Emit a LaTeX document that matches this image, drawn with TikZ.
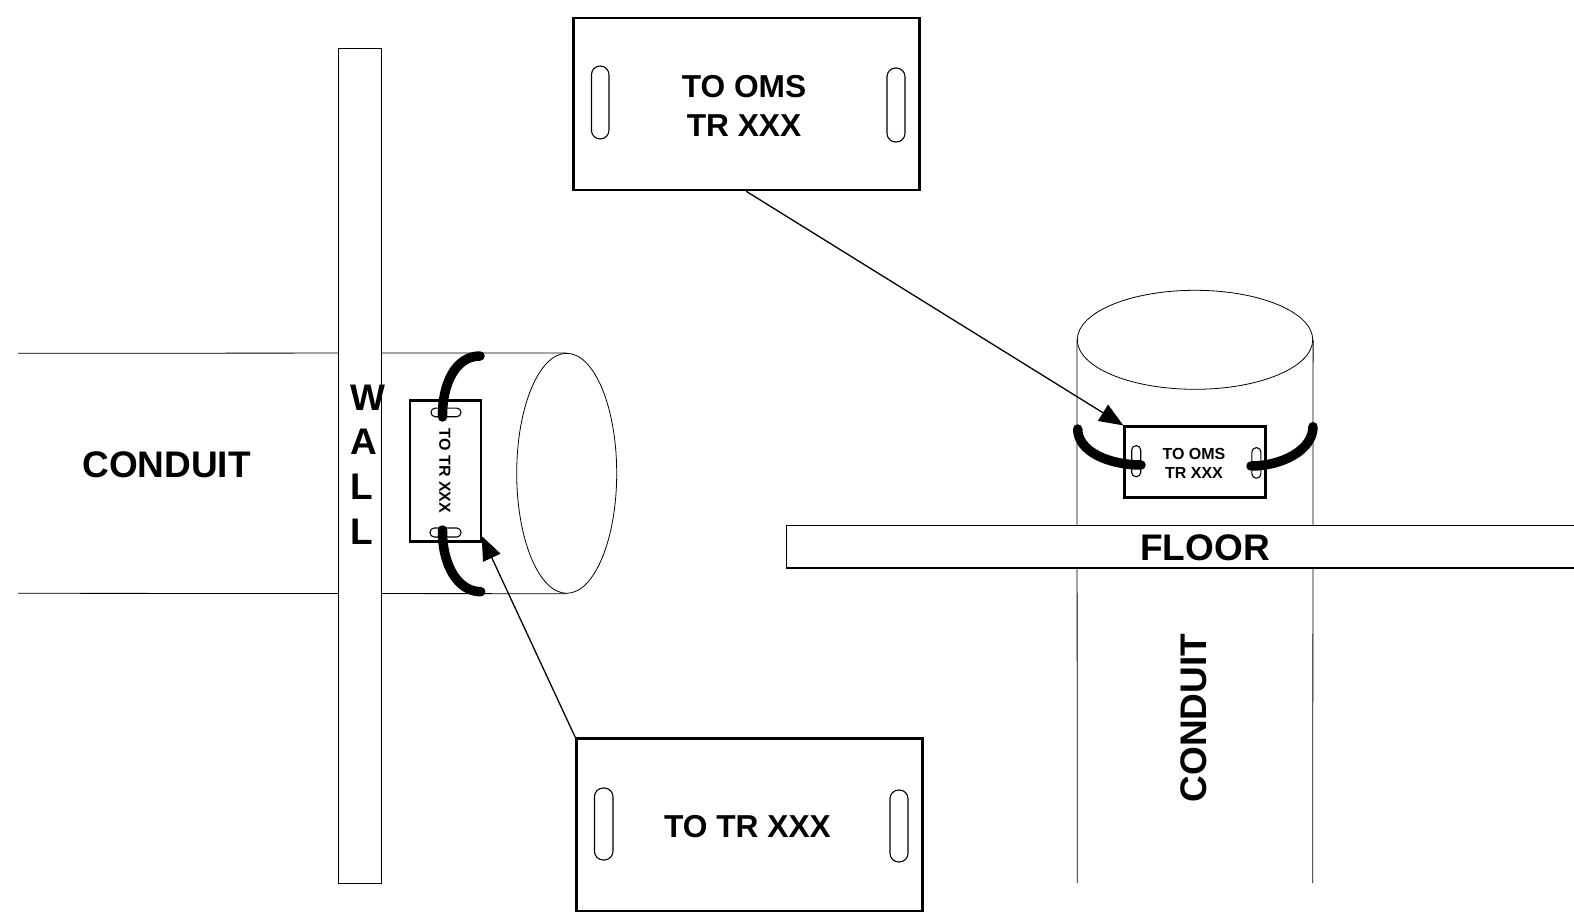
\documentclass[tikz,border=0pt]{standalone}
\usepackage{fontspec}
\setmainfont{Liberation Sans}
\usetikzlibrary{shapes.geometric, arrows.meta}

\begin{document}
\begin{tikzpicture}[
                    x=1pt, y=-1pt,
                    tag/.style={draw, fill=white, line width=2.6pt, inner sep=0pt},
                    tagtext/.style={inner sep=0pt, align=center, font=\bfseries\fontsize{31.7}{39}\selectfont},
                    smalltext/.style={inner sep=0pt, align=center, font=\bfseries\fontsize{16}{19.4}\selectfont},
                    slot/.style={draw, line width=1.1pt, rounded corners=#1, inner sep=0pt},
                    slot/.default=8pt,
                    label/.style={inner sep=0pt, font=\bfseries\fontsize{37}{44.6}\selectfont},
                    bar/.style={draw, fill=white, line width=1.4pt, inner sep=0pt},
                    pipe/.style={line width=0.8pt},
                    tie/.style={line width=9.5pt, line cap=round},
                    arrow/.style={-{Triangle[length=24pt, width=19pt]}, line width=1.3pt}
                ]
                \useasboundingbox (0,0) rectangle (1574,912);

                % --- Wall side ---
                \coordinate (pipe_top) at (18,353.3);
                \coordinate (pipe_bot) at (18,593.3);
                \node[ellipse, draw, line width=0.8pt, inner sep=0pt, minimum width=100pt, minimum height=240pt] (pipe_end) at (566.7,473.3) {};
                \draw[pipe] (pipe_top) -- (pipe_end.north);
                \draw[pipe] (pipe_bot) -- (pipe_end.south);
                \node[bar, minimum width=43pt, minimum height=835pt] (wall) at (359.7,466) {};
                \node[label, align=left, anchor=west] (wall_text) at (350,464.5) {W\\A\\L\\L};
                \node[label] (pipe_text) at (166.6,465) {CONDUIT};

                \node[tag, minimum width=71pt, minimum height=141pt] (tag_wall) at (445.5,471.2) {};
                \node[smalltext, rotate=-90] (tag_wall_text) at (445,471) {TO TR XXX};
                \node[slot=4.3pt, minimum width=30pt, minimum height=8.7pt] (wall_slot_a) at (446,412.4) {};
                \node[slot=4.3pt, minimum width=31pt, minimum height=9pt] (wall_slot_b) at (445.5,532.5) {};
                \coordinate (wall_tie_a) at (480,356);
                \coordinate (wall_tie_b) at (480.7,591.7);
                \draw[tie] (wall_tie_a) .. controls (455,356) and (442,385) .. (442.5,417);
                \draw[tie] (wall_tie_b) .. controls (458,591.7) and (442,565) .. (442.5,530);

                % --- Floor side ---
                \node[ellipse, draw, line width=0.8pt, inner sep=0pt, minimum width=235.4pt, minimum height=99pt] (riser_end) at (1195,339.8) {};
                \coordinate (riser_left) at (1077.3,883);
                \coordinate (riser_right) at (1312.7,883);
                \draw[pipe] (riser_end.west) -- (riser_left);
                \draw[pipe] (riser_end.east) -- (riser_right);
                \node[bar, minimum width=792pt, minimum height=42.3pt] (floor) at (1182.5,546.8) {};
                \node[label] (floor_text) at (1205,548) {FLOOR};
                \node[label, rotate=90] (riser_text) at (1193.5,718) {CONDUIT};

                \node[tag, minimum width=140.7pt, minimum height=71pt] (tag_floor) at (1195,462.2) {};
                \node[smalltext] (tag_floor_text) at (1194,463.5) {TO OMS\\TR XXX};
                \node[slot=4.3pt, minimum width=9pt, minimum height=31pt] (floor_slot_a) at (1136.2,461.2) {};
                \node[slot=4.3pt, minimum width=9pt, minimum height=30.5pt] (floor_slot_b) at (1256.4,462.9) {};
                \coordinate (floor_tie_a) at (1077.7,429);
                \coordinate (floor_tie_b) at (1313,426.7);
                \draw[tie] (floor_tie_a) .. controls (1077.7,452) and (1110,465) .. (1141,465);
                \draw[tie] (floor_tie_b) .. controls (1313,450) and (1282,466) .. (1251,466);

                % --- Enlarged tags ---
                \node[tag, minimum width=346pt, minimum height=172pt] (big_oms) at (746.2,104) {};
                \node[tagtext] (big_oms_text) at (744,106) {TO OMS\\TR XXX};
                \node[slot=8.7pt, minimum width=17.5pt, minimum height=73pt] (big_oms_a) at (600.2,102.5) {};
                \node[slot=8.7pt, minimum width=18pt, minimum height=74pt] (big_oms_b) at (896,105) {};

                \node[tag, minimum width=346pt, minimum height=173pt] (big_tr) at (749.5,825) {};
                \node[tagtext] (big_tr_text) at (747.5,826.5) {TO TR XXX};
                \node[slot=8.7pt, minimum width=18.5pt, minimum height=72pt] (big_tr_a) at (603.7,824) {};
                \node[slot=8.7pt, minimum width=18pt, minimum height=72pt] (big_tr_b) at (899,826) {};

                \coordinate (tr_tip) at (481.7,536);
                \draw[arrow] (big_oms.south) -- (tag_floor.north west);
                \draw[arrow] (big_tr.north west) -- (tr_tip);

                \end{tikzpicture}
\end{document}
